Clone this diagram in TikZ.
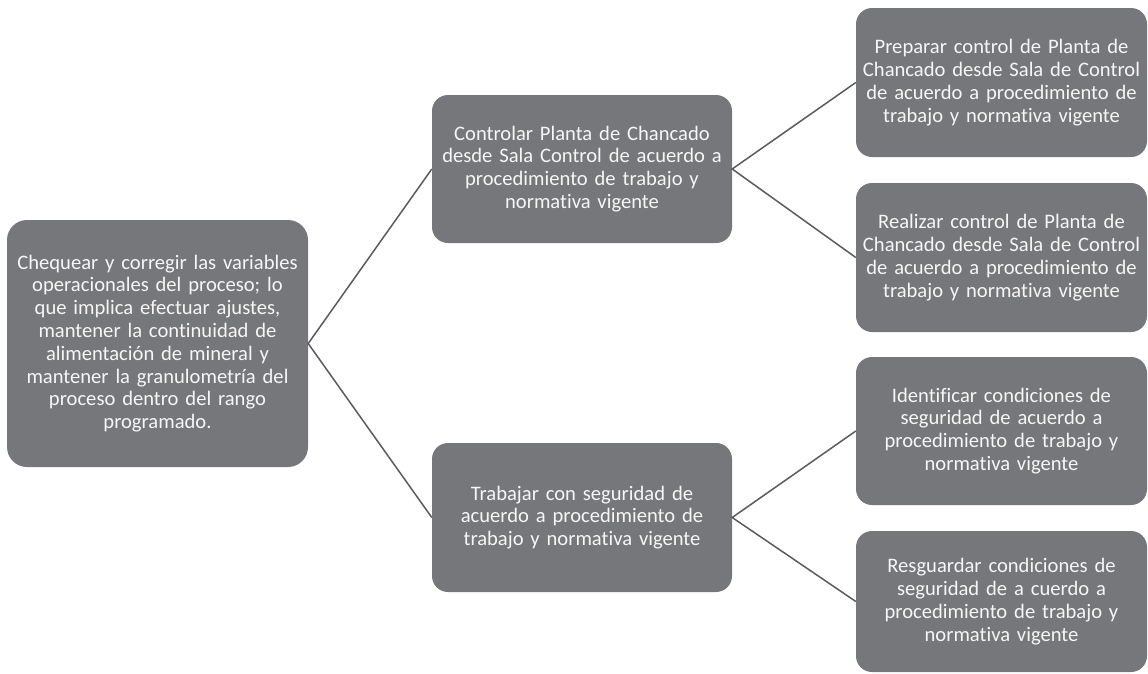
\documentclass[tikz,border=0pt]{standalone}
\usepackage{fontspec}
\setmainfont{Carlito}[Ligatures=NoCommon]
\definecolor{boxgray}{HTML}{76777B}
\definecolor{linegray}{HTML}{5B5B5E}
\definecolor{txt}{HTML}{F6F6F6}
\tikzset{
  box/.style={rectangle, rounded corners=#1, fill=boxgray, text=txt, align=center,
    inner xsep=3pt, inner ysep=0pt, font=\fontsize{20.6}{22.8}\selectfont},
  box/.default=16pt,
  conn/.style={draw=linegray, line width=1.5pt}
}
\begin{document}
\begin{tikzpicture}[x=1pt,y=-1pt]
\useasboundingbox (0,0) rectangle (1148,673);
\node[box=20pt, minimum width=301pt, minimum height=247pt, text width=295pt] (root) at (157.5,343.5)
  {Chequear y corregir las variables\\operacionales del proceso; lo\\que implica efectuar ajustes,\\mantener la continuidad de\\alimentación de mineral y\\mantener la granulometría del\\proceso dentro del rango\\programado.};
\node[box, minimum width=300pt, minimum height=148pt, text width=294pt] (m1) at (582,169)
  {Controlar Planta de Chancado\\desde Sala Control de acuerdo a\\procedimiento de trabajo y\\normativa vigente};
\node[box, minimum width=300pt, minimum height=149pt, text width=294pt] (m2) at (582,517.5)
  {Trabajar con seguridad de\\acuerdo a procedimiento de\\trabajo y normativa vigente};
\node[box, minimum width=291pt, minimum height=149pt, text width=285pt] (r1) at (1001.5,82.5)
  {Preparar control de Planta de\\Chancado desde Sala de Control\\de acuerdo a procedimiento de\\trabajo y normativa vigente};
\node[box, minimum width=291pt, minimum height=149pt, text width=285pt] (r2) at (1001.5,257.5)
  {Realizar control de Planta de\\Chancado desde Sala de Control\\de acuerdo a procedimiento de\\trabajo y normativa vigente};
\node[box, minimum width=291pt, minimum height=148pt, text width=285pt] (r3) at (1001.5,431)
  {Identificar condiciones de\\seguridad de acuerdo a\\procedimiento de trabajo y\\normativa vigente};
\node[box, minimum width=291pt, minimum height=141pt, text width=285pt] (r4) at (1001.5,601.5)
  {Resguardar condiciones de\\seguridad de a cuerdo a\\procedimiento de trabajo y\\normativa vigente};
\draw[conn] (m1.west) -- (root.east) -- (m2.west);
\draw[conn] (r1.west) -- (m1.east) -- (r2.west);
\draw[conn] (r3.west) -- (m2.east) -- (r4.west);
\end{tikzpicture}
\end{document}
